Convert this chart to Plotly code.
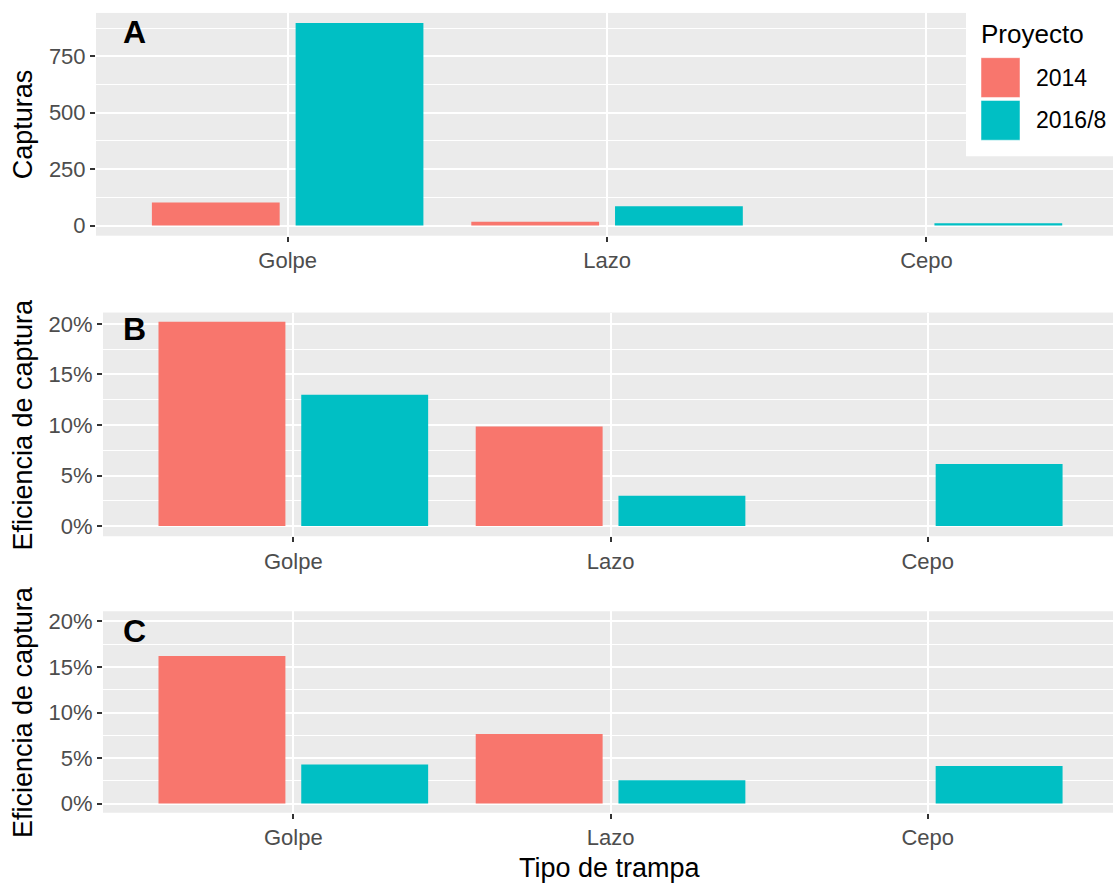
import plotly.graph_objects as go

# Trap types and projects
tipos = ["Golpe", "Lazo", "Cepo"]
proyectos = ["2014", "2016/8"]
colores = {"2014": "#F8766D", "2016/8": "#00BFC4"}

# A: captures per trap type
capturas_2014 = [102, 17, 0]
capturas_2016 = [897, 85, 10]

# B: capture efficiency (%)
eficiencia_b_2014 = [20.2, 9.85, 0]
eficiencia_b_2016 = [13.0, 3.0, 6.15]

# C: capture efficiency (%)
eficiencia_c_2014 = [16.2, 7.65, 0]
eficiencia_c_2016 = [4.3, 2.55, 4.13]

ticks_capturas = [0, 250, 500, 750]
ticks_pct = [0, 5, 10, 15, 20]
labels_pct = ["%d%%" % v for v in ticks_pct]

W, H = 1113, 888
FONT = "Liberation Sans, Arial, sans-serif"
PANEL_BG = "#EBEBEB"
TICK_COL = "#4D4D4D"


def py(px):
    return 1 - px / H


def pxx(px):
    return px / W


fig = go.Figure()

series = [
    ("x", "y", capturas_2014, capturas_2016),
    ("x2", "y2", eficiencia_b_2014, eficiencia_b_2016),
    ("x3", "y3", eficiencia_c_2014, eficiencia_c_2016),
]
for xa, ya, v14, v16 in series:
    for name, vals in zip(proyectos, [v14, v16]):
        fig.add_trace(go.Bar(
            x=tipos, y=vals, name=name, xaxis=xa, yaxis=ya,
            marker=dict(color=colores[name], line=dict(width=0)),
            showlegend=False,
        ))

xcommon = dict(
    type="category", categoryorder="array", categoryarray=tipos,
    showgrid=True, gridcolor="white", gridwidth=2,
    ticks="outside", ticklen=5, tickwidth=1.5, tickcolor="#333333",
    tickfont=dict(family=FONT, size=22, color=TICK_COL),
    zeroline=False, showline=False, fixedrange=True,
)
ycommon = dict(
    showgrid=True, gridcolor="white", gridwidth=2,
    ticks="outside", ticklen=5, tickwidth=1.5, tickcolor="#333333",
    tickfont=dict(family=FONT, size=22, color=TICK_COL),
    zeroline=False, showline=False, fixedrange=True,
)

rng_a = [-44.85, 941.85]
rng_pct = [-1.006, 21.12]
minor_pct = dict(tickvals=[2.5, 7.5, 12.5, 17.5], showgrid=True,
                 gridcolor="white", gridwidth=1)

fig.update_layout(
    xaxis=dict(xcommon, domain=[pxx(96), 1], range=[-0.6, 2.584], anchor="y"),
    xaxis2=dict(xcommon, domain=[pxx(103), 1], range=[-0.6, 2.584], anchor="y2"),
    xaxis3=dict(xcommon, domain=[pxx(103), 1], range=[-0.6, 2.584], anchor="y3"),
    yaxis=dict(ycommon, domain=[py(235), py(11)], range=rng_a, anchor="x",
               tickvals=ticks_capturas, ticktext=[str(v) for v in ticks_capturas],
               minor=dict(tickvals=[125, 375, 625, 875], showgrid=True,
                          gridcolor="white", gridwidth=1)),
    yaxis2=dict(ycommon, domain=[py(537.3), py(312.3)], range=rng_pct, anchor="x2",
                tickvals=ticks_pct, ticktext=labels_pct, minor=minor_pct),
    yaxis3=dict(ycommon, domain=[py(815.3), py(612.7)], range=rng_pct, anchor="x3",
                tickvals=ticks_pct, ticktext=labels_pct, minor=minor_pct),
    barmode="group", bargap=0.1, bargroupgap=0.111,
    plot_bgcolor=PANEL_BG, paper_bgcolor="white",
    width=W, height=H, margin=dict(l=0, r=0, t=0, b=0),
    font=dict(family=FONT, color="black"),
    showlegend=False,
)

annotations = []
# axis titles
annotations.append(dict(text="Tipo de trampa", x=pxx(610), y=py(871), xref="paper", yref="paper",
                        showarrow=False, font=dict(size=27, color="black"),
                        xanchor="center", yanchor="middle"))
for text, yc in [("Capturas", 123), ("Eficiencia de captura", 425), ("Eficiencia de captura", 714)]:
    annotations.append(dict(text=text, x=pxx(23), y=py(yc), xref="paper", yref="paper",
                            showarrow=False, textangle=-90, font=dict(size=27, color="black"),
                            xanchor="center", yanchor="middle"))
# panel letters
for letter, yc in [("A", 30), ("B", 329), ("C", 633)]:
    annotations.append(dict(text="<b>%s</b>" % letter, x=pxx(134), y=py(yc), xref="paper", yref="paper",
                            showarrow=False, font=dict(size=32, color="black"),
                            xanchor="center", yanchor="middle"))

# legend box
shapes = [dict(type="rect", xref="paper", yref="paper", x0=pxx(966), x1=1, y0=py(155), y1=py(6),
               fillcolor="white", line=dict(width=0), layer="above")]
annotations.append(dict(text="Proyecto", x=pxx(979), y=py(32), xref="paper", yref="paper",
                        showarrow=False, font=dict(size=26, color="black"),
                        xanchor="left", yanchor="middle"))
for name, (y0, y1) in zip(proyectos, [(56, 96), (99, 139)]):
    shapes.append(dict(type="rect", xref="paper", yref="paper", x0=pxx(981), x1=pxx(1020),
                       y0=py(y1), y1=py(y0), fillcolor=colores[name],
                       line=dict(width=0.5, color="white"), layer="above"))
    annotations.append(dict(text=name, x=pxx(1034), y=py((y0 + y1) / 2), xref="paper", yref="paper",
                            showarrow=False, font=dict(size=23, color="black"),
                            xanchor="left", yanchor="middle"))

fig.update_layout(annotations=annotations, shapes=shapes)
fig.write_html("out.html", config={"displayModeBar": False})
